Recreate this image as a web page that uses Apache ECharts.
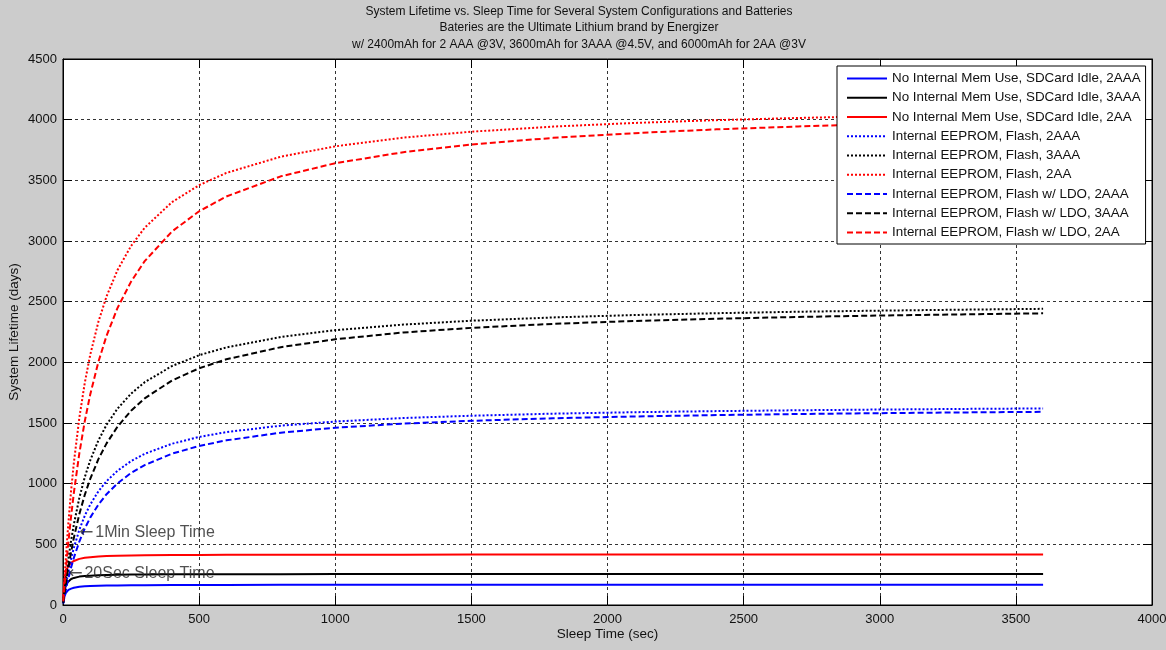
<!DOCTYPE html>
<html>
<head>
<meta charset="utf-8">
<script src="https://cdn.jsdelivr.net/npm/echarts@6/dist/echarts.min.js"></script>
<style>html,body{margin:0;padding:0;background:#cccccc;}#c{width:1166px;height:650px;}</style>
</head>
<body>
<div id="c"></div>
<script>
// Sleep time samples (sec)
const sleepTime = [1,2,4,6,10,15,20,30,40,60,80,100,130,160,200,250,300,400,500,600,800,1000,1250,1500,1800,2100,2400,2700,3000,3300,3600];

// Lifetime (days)
const noMem2AAA = [21,37,61,77,98,114,124,135,142,150,154,156,158,160,161,162,163,164,165,165,166,166,166,166,166,166,167,167,167,167,167];
const noMem3AAA = [37,64,103,129,161,184,198,214,223,234,239,242,246,248,250,251,252,253,254,254,254,256,256,256,256,256,256,256,256,256,256];
const noMem2AA  = [60,105,167,209,261,299,322,348,363,380,389,394,400,403,406,408,410,412,413,414,415,415,415,416,416,416,416,417,417,417,417];
const flash2AAA = [16,32,63,93,150,215,275,381,472,620,736,828,937,1021,1106,1186,1246,1329,1385,1425,1478,1512,1541,1560,1577,1589,1598,1605,1611,1616,1620];
const flash3AAA = [22,45,88,129,208,300,384,535,666,883,1054,1192,1357,1485,1618,1742,1836,1969,2059,2123,2209,2265,2311,2343,2370,2390,2405,2417,2426,2434,2441];
const flash2AA  = [40,80,157,231,372,534,683,947,1174,1543,1831,2062,2334,2544,2759,2959,3109,3320,3460,3561,3695,3780,3852,3901,3943,3973,3996,4014,4029,4041,4051];
const ldo2AAA   = [13,25,50,73,119,172,221,311,390,523,631,720,828,913,1002,1088,1153,1247,1311,1357,1420,1461,1495,1518,1539,1554,1565,1574,1581,1587,1592];
const ldo3AAA   = [18,35,69,103,166,242,312,441,555,749,908,1040,1202,1332,1469,1601,1703,1850,1951,2025,2125,2190,2246,2284,2317,2341,2359,2374,2386,2395,2404];
const ldo2AA    = [30,59,116,172,278,404,522,736,927,1250,1515,1735,2004,2219,2447,2665,2834,3078,3245,3367,3533,3641,3732,3795,3850,3889,3920,3944,3963,3979,3993];

const seriesNames = [
  'No Internal Mem Use, SDCard Idle, 2AAA',
  'No Internal Mem Use, SDCard Idle, 3AAA',
  'No Internal Mem Use, SDCard Idle, 2AA',
  'Internal EEPROM, Flash, 2AAA',
  'Internal EEPROM, Flash, 3AAA',
  'Internal EEPROM, Flash, 2AA',
  'Internal EEPROM, Flash w/ LDO, 2AAA',
  'Internal EEPROM, Flash w/ LDO, 3AAA',
  'Internal EEPROM, Flash w/ LDO, 2AA'
];
const seriesValues = [noMem2AAA, noMem3AAA, noMem2AA, flash2AAA, flash3AAA, flash2AA, ldo2AAA, ldo3AAA, ldo2AA];

// annotations: [x, y, text]
const annotations = [[60, 600, '1Min Sleep Time'], [20, 262, '20Sec Sleep Time']];

const titleLines = [
  'System Lifetime vs. Sleep Time for Several System Configurations and Batteries',
  'Bateries are the Ultimate Lithium brand by Energizer',
  'w/ 2400mAh for 2 AAA @3V, 3600mAh for 3AAA @4.5V, and 6000mAh for 2AA @3V'
];

const colors = ['#0000ff', '#000000', '#ff0000'];
const styles = ['solid', [2, 2], [6, 3]];
const FONT = 'Liberation Sans';

const series = seriesValues.map(function (vals, i) {
  return {
    name: seriesNames[i],
    type: 'line',
    xAxisIndex: 0, yAxisIndex: 0,
    data: sleepTime.map(function (t, j) { return [t, vals[j]]; }),
    symbol: 'none',
    smooth: false,
    animation: false,
    lineStyle: { color: colors[i % 3], width: 2, type: styles[Math.floor(i / 3)] },
    itemStyle: { color: colors[i % 3] },
    z: 3
  };
});
series.push({
  type: 'scatter', xAxisIndex: 0, yAxisIndex: 0,
  data: annotations.map(function (a) { return { value: [a[0], a[1]], label: { formatter: '{a|\u2190}{b|' + a[2] + '}' } }; }),
  symbolSize: 0, silent: true, animation: false,
  label: {
    show: true, position: 'right', distance: 0,
    rich: {
      a: { fontFamily: 'DejaVu Sans', fontSize: 17, width: 16, color: '#262626' },
      b: { fontFamily: FONT, fontSize: 16, color: '#262626' }
    }
  },
  z: 5
});

function tick() { return { show: true, inside: true, length: 9, lineStyle: { color: '#000', width: 1 } }; }
function line() { return { show: true, onZero: false, lineStyle: { color: '#000', width: 1 } }; }
function lab(m) { return { show: true, margin: m, fontFamily: FONT, fontSize: 13, color: '#111', formatter: function (v) { return String(v); } }; }
const nameStyle = { fontFamily: FONT, fontSize: 13.5, color: '#111' };
const gridLine = { show: true, lineStyle: { color: '#333', type: [3, 3], width: 1 } };

const chart = echarts.init(document.getElementById('c'));
chart.setOption({
  backgroundColor: '#cccccc',
  animation: false,
  graphic: [{
    type: 'text', x: 579, y: 3,
    style: {
      text: titleLines.join('\n'),
      textAlign: 'center', textVerticalAlign: 'top',
      fontFamily: FONT, fontSize: 12, lineHeight: 16.5, fill: '#111'
    },
    z: 10
  }],
  grid: { left: 63, right: 14, top: 59, bottom: 45, show: true, backgroundColor: '#fff', borderColor: '#000', borderWidth: 1, outerBoundsMode: 'none', containLabel: false },
  legend: {
    orient: 'vertical', left: 837, top: 66,
    itemWidth: 40, itemHeight: 14, itemGap: 6.25,
    padding: [6, 5, 5, 9],
    backgroundColor: '#fff', borderColor: '#000', borderWidth: 1, borderRadius: 0,
    itemStyle: { opacity: 0 },
    data: seriesNames,
    textStyle: { fontFamily: FONT, fontSize: 13.4, color: '#111' },
    z: 20
  },
  xAxis: [
    {
      type: 'value', min: 0, max: 4000, interval: 500, position: 'bottom',
      name: 'Sleep Time (sec)', nameLocation: 'middle', nameGap: 22, nameMoveOverlap: false, nameTextStyle: nameStyle,
      axisLine: line(), axisTick: tick(), axisLabel: lab(8), splitLine: gridLine
    },
    {
      type: 'value', min: 0, max: 4000, interval: 500, position: 'top',
      axisLine: line(), axisTick: tick(), axisLabel: { show: false }, splitLine: { show: false }
    }
  ],
  yAxis: [
    {
      type: 'value', min: 0, max: 4500, interval: 500, position: 'left',
      name: 'System Lifetime (days)', nameLocation: 'middle', nameGap: 42, nameMoveOverlap: false, nameTextStyle: nameStyle,
      axisLine: line(), axisTick: tick(), axisLabel: lab(6), splitLine: gridLine
    },
    {
      type: 'value', min: 0, max: 4500, interval: 500, position: 'right',
      axisLine: line(), axisTick: tick(), axisLabel: { show: false }, splitLine: { show: false }
    }
  ],
  series: series
});
</script>
</body>
</html>
